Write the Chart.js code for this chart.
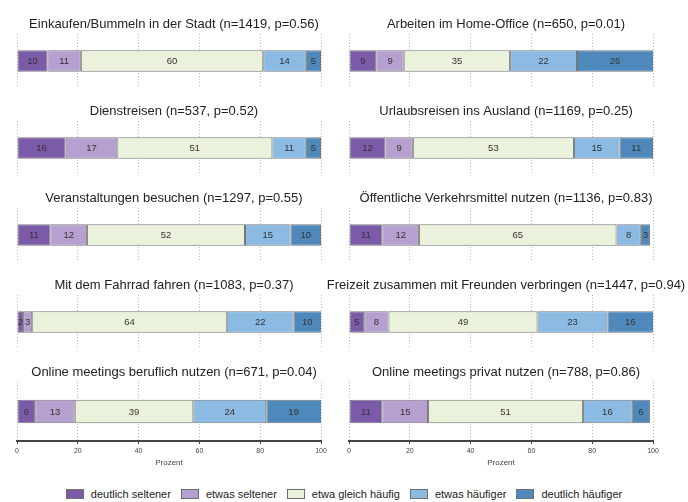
<!DOCTYPE html>
<html>
<head>
<meta charset="utf-8">
<script src="https://cdn.jsdelivr.net/npm/chart.js@4"></script>
<style>
  body { margin:0; background:#fff; font-family:"Liberation Sans", Arial, sans-serif; }
  #wrap { position:relative; width:688px; height:502px; }
  .panel { position:absolute; }
  #legend { position:absolute; left:0; top:488px; width:688px; display:flex; justify-content:center;
            font-size:11px; color:#222; }
  .item { display:flex; align-items:center; margin:0 5px; }
  .box { width:16px; height:8px; border:1px solid #6f6f6f; margin-right:7px; }
</style>
</head>
<body>
<div id="wrap">
  <div id="legend"></div>
</div>
<script>
// ── Data ─────────────────────────────────────────────────────
const titles = [
  'Einkaufen/Bummeln in der Stadt (n=1419, p=0.56)',
  'Arbeiten im Home-Office (n=650, p=0.01)',
  'Dienstreisen (n=537, p=0.52)',
  'Urlaubsreisen ins Ausland (n=1169, p=0.25)',
  'Veranstaltungen besuchen (n=1297, p=0.55)',
  'Öffentliche Verkehrsmittel nutzen (n=1136, p=0.83)',
  'Mit dem Fahrrad fahren (n=1083, p=0.37)',
  'Freizeit zusammen mit Freunden verbringen (n=1447, p=0.94)',
  'Online meetings beruflich nutzen (n=671, p=0.04)',
  'Online meetings privat nutzen (n=788, p=0.86)'
];
const categories = ['deutlich seltener', 'etwas seltener', 'etwa gleich häufig', 'etwas häufiger', 'deutlich häufiger'];
const deutlichSeltener  = [10,  9, 16, 12, 11, 11,  2,  5,  6, 11];
const etwasSeltener     = [11,  9, 17,  9, 12, 12,  3,  8, 13, 15];
const etwaGleich        = [60, 35, 51, 53, 52, 65, 64, 49, 39, 51];
const etwasHaeufiger    = [14, 22, 11, 15, 15,  8, 22, 23, 24, 16];
const deutlichHaeufiger = [ 5, 26,  5, 11, 10,  3, 10, 16, 19,  6];
const xTicks = [0, 20, 40, 60, 80, 100];

const series = [deutlichSeltener, etwasSeltener, etwaGleich, etwasHaeufiger, deutlichHaeufiger];
const colors = ['#7b5ba8', '#b5a0d0', '#eaf2dc', '#8bbae3', '#4f89bc'];

// ── Plugins ──────────────────────────────────────────────────
const segLabels = {
  id: 'segLabels',
  afterDatasetsDraw(chart) {
    const ctx = chart.ctx;
    ctx.save();
    ctx.font = '9.5px "Liberation Sans", Arial, sans-serif';
    ctx.fillStyle = '#333';
    ctx.textAlign = 'center';
    ctx.textBaseline = 'middle';
    chart.data.datasets.forEach((ds, k) => {
      const el = chart.getDatasetMeta(k).data[0];
      const right = Math.min(el.x, chart.chartArea.right);
      ctx.fillText(ds.data[0], (right + el.base) / 2, el.y + 0.5);
    });
    ctx.restore();
  }
};

function panelTitle(text) {
  return {
    id: 'panelTitle',
    afterDraw(chart) {
      const a = chart.chartArea, ctx = chart.ctx;
      ctx.save();
      ctx.font = '13px "Liberation Sans", Arial, sans-serif';
      ctx.fillStyle = '#222';
      ctx.textAlign = 'center';
      ctx.textBaseline = 'alphabetic';
      ctx.fillText(text, (a.left + a.right) / 2 + 5, a.top - 6);
      ctx.restore();
    }
  };
}

// ── Panels ───────────────────────────────────────────────────
function makePanel(i) {
  const col = i % 2, row = Math.floor(i / 2);
  const bottom = row === 4;
  const div = document.createElement('div');
  div.className = 'panel';
  div.style.left = (col ? 320 : 0) + 'px';
  div.style.top  = (row * 87) + 'px';
  const cv = document.createElement('canvas');
  cv.width = col ? 368 : 340;
  cv.height = bottom ? 120 : 88;
  div.appendChild(cv);
  document.getElementById('wrap').appendChild(div);

  new Chart(cv, {
    type: 'bar',
    data: {
      labels: [''],
      datasets: categories.map((name, k) => ({
        label: name,
        data: [series[k][i]],
        backgroundColor: colors[k],
        borderColor: '#777',
        borderWidth: 1,
        borderSkipped: false,
        barPercentage: 0.4,
        categoryPercentage: 1
      }))
    },
    options: {
      indexAxis: 'y',
      responsive: false,
      animation: false,
      layout: { padding: { left: col ? 29 : 17, right: col ? 35 : 19, top: 34, bottom: 0 } },
      plugins: { legend: { display: false }, tooltip: { enabled: false } },
      scales: {
        x: {
          stacked: true, min: 0, max: 100,
          afterBuildTicks: s => { s.ticks = xTicks.map(v => ({ value: v })); },
          grid: { color: '#bdbdbd', drawTicks: bottom, tickLength: 3, tickColor: '#444' },
          border: { display: bottom, color: '#444', width: 2, dash: [1, 2] },
          ticks: { display: bottom, color: '#444', padding: 3, maxRotation: 0,
                   font: { size: 7, family: '"Liberation Sans", Arial, sans-serif' } },
          title: { display: bottom, text: 'Prozent', color: '#444', padding: { top: 0, bottom: 0 },
                   font: { size: 8, family: '"Liberation Sans", Arial, sans-serif' } }
        },
        y: { stacked: true, display: false }
      }
    },
    plugins: [segLabels, panelTitle(titles[i])]
  });
}

titles.forEach((t, i) => makePanel(i));

// ── Legend ───────────────────────────────────────────────────
document.getElementById('legend').innerHTML = categories.map((c, k) => `
  <div class="item"><span class="box" style="background:${colors[k]}"></span>${c}</div>`).join('');
</script>
</body>
</html>
